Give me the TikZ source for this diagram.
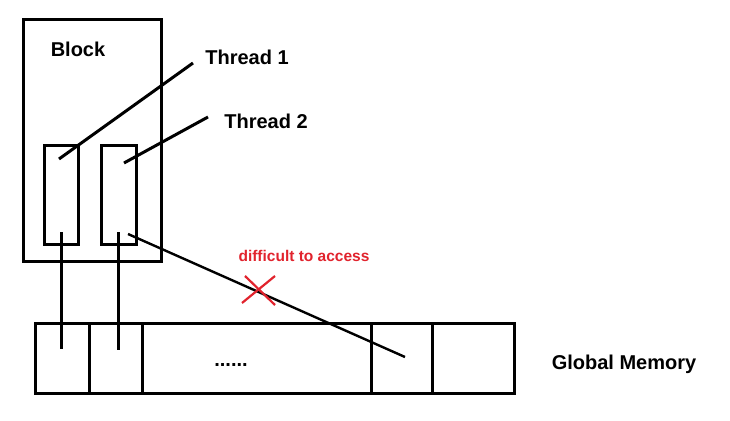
\documentclass[tikz,border=0pt]{standalone}
\usepackage{fontspec}
\setmainfont{Liberation Sans}
\begin{document}
\begin{tikzpicture}[x=1pt,y=-1pt,
  box/.style={draw=black,line width=3pt,inner sep=0pt,minimum width=#1},
  lbl/.style={font=\fontsize{20}{22}\selectfont\bfseries,inner sep=0pt,text=black},
  redlbl/.style={font=\fontsize{15.5}{17}\selectfont\bfseries,inner sep=0pt,text=xred},
  wire/.style={line width=3pt,line cap=butt},
  thin/.style={line width=2.4pt}]
\definecolor{xred}{RGB}{225,35,45}
\useasboundingbox (0,0) rectangle (730,420);
% block
\node[box=138pt,minimum height=241pt] (block) at (92,140.5) {};
\node[lbl] (blocklbl) at (78,49) {Block};
% threads
\node[box=34pt,minimum height=99pt] (t1) at (61,194.5) {};
\node[box=35pt,minimum height=99pt] (t2) at (118.5,194.5) {};
\node[lbl] (t1lbl) at (247,57) {Thread 1};
\node[lbl] (t2lbl) at (266,121) {Thread 2};
% memory
\node[box=54pt,minimum height=70pt] (m1) at (62,358) {};
\node[box=53pt,minimum height=70pt] (m2) at (115.5,358) {};
\node[box=229pt,minimum height=70pt] (m3) at (256.5,358) {};
\node[box=61pt,minimum height=70pt] (m4) at (401.5,358) {};
\node[box=82pt,minimum height=70pt] (m5) at (473,358) {};
\node[lbl] (dots) at (231,365) {......};
\node[lbl] (gm) at (624,364) {Global Memory};
% coordinates
\coordinate (t1in) at (59,159);
\coordinate (t1out) at (193,63);
\coordinate (t2in) at (124,163);
\coordinate (t2out) at (208,117);
\coordinate (t1bot) at (61,232);
\coordinate (m1in) at (61,349);
\coordinate (t2bot) at (118,232);
\coordinate (m2in) at (118,350);
\coordinate (t2diag) at (128,234);
\coordinate (m4in) at (405,357);
\draw[wire] (t1in) -- (t1out);
\draw[wire] (t2in) -- (t2out);
\draw[wire] (t1bot) -- (m1in);
\draw[wire] (t2bot) -- (m2in);
\draw[thin] (t2diag) -- (m4in);
% red cross
\node[redlbl] (hard) at (304,256) {difficult to access};
\coordinate (xa) at (242,303);
\coordinate (xb) at (275,276);
\coordinate (xc) at (245,276);
\coordinate (xd) at (275,305);
\draw[xred,line width=2.2pt] (xa) -- (xb);
\draw[xred,line width=2.2pt] (xc) -- (xd);
\end{tikzpicture}
\end{document}
